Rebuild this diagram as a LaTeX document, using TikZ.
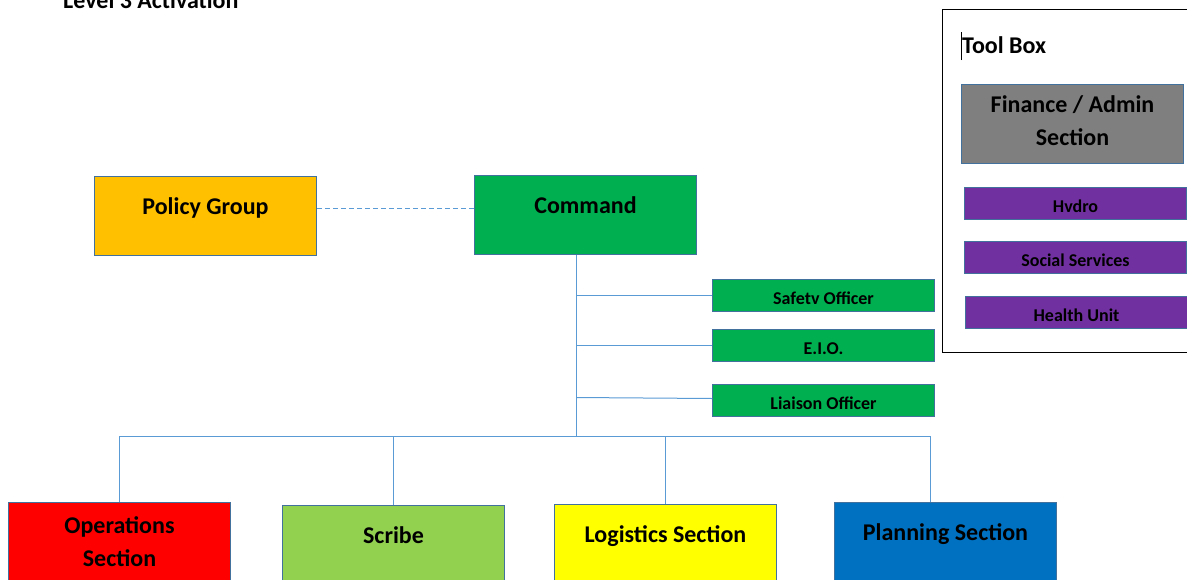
\documentclass[tikz,border=0pt]{standalone}
\usepackage{fontspec}
\setmainfont{Carlito}
\usepackage{xcolor}
\definecolor{frame_ms}{RGB}{65,113,156}
\definecolor{line_ms}{RGB}{91,155,213}
\definecolor{gold_ms}{RGB}{255,192,0}
\definecolor{green_ms}{RGB}{0,176,80}
\definecolor{lime_ms}{RGB}{146,208,80}
\definecolor{red_ms}{RGB}{255,0,0}
\definecolor{yellow_ms}{RGB}{255,255,0}
\definecolor{blue_ms}{RGB}{0,112,192}
\definecolor{grey_ms}{RGB}{127,127,127}
\definecolor{purple_ms}{RGB}{112,48,160}
\usetikzlibrary{calc,positioning}

\begin{document}
\begin{tikzpicture}
[	x=1pt, y=-1pt,
	unit/.style={draw=frame_ms, line width=1pt, anchor=north west, inner sep=0pt, minimum width=222pt, minimum height=79pt, align=center, font=\fontsize{24}{33}\selectfont\bfseries},
	oneline/.style={text height=12pt, text depth=16pt},
	officer/.style={draw=frame_ms, line width=1pt, fill=green_ms, anchor=north west, inner sep=0pt, minimum width=222pt, minimum height=32pt, text height=17pt, text depth=0pt, font=\fontsize{18}{22}\selectfont\bfseries},
	agency/.style={officer, fill=purple_ms},
	heading/.style={anchor=base west, inner sep=0pt, font=\fontsize{24}{28}\selectfont\bfseries},
	wire/.style={draw=line_ms, line width=1pt},
	link/.style={wire, dash pattern=on 5pt off 3pt}
]
\useasboundingbox (0,0) rectangle (1187,579);

\node(title)[heading] at (63,8) {Level 3 Activation};

% tool box
\draw[line width=0.8pt] (942,9) rectangle (1200,352);
\node(toolbox)[heading] at (962,53) {Tool Box};
\draw[line width=0.6pt] ($(toolbox.base west)+(-1,7)$) -- ++(0,-28);
\node(finance)[unit, fill=grey_ms] at (961,84) {Finance / Admin\\Section\vspace*{6pt}};
\node(hydro)[agency] at (964,187) {Hvdro};
\node(social)[agency] at (964,241) {Social Services};
\node(health)[agency] at (965,296) {Health Unit};

% command level
\node(policy)[unit, oneline, fill=gold_ms] at (94,176) {Policy Group};
\node(command)[unit, oneline, fill=green_ms] at (474,175) {Command};

\node(safety)[officer] at (712,279) {Safetv Officer};
\node(eio)[officer, below=17pt of safety.south west, anchor=north west] {E.I.O.};
\node(liaison)[officer, below=22pt of eio.south west, anchor=north west] {Liaison Officer};

% sections
\node(ops)[unit, fill=red_ms] at (8,502) {Operations\\Section};
\node(scribe)[unit, oneline, fill=lime_ms] at (282,505) {Scribe};
\node(logistics)[unit, oneline, fill=yellow_ms] at (554,504) {Logistics Section};
\node(planning)[unit, oneline, fill=blue_ms] at (834,502) {Planning Section};

\coordinate(trunk) at ($(command.south west)+(102,0)$);
\coordinate(bus) at ($(trunk)+(0,181)$);
\coordinate(plandrop) at ($(planning.north)+(-15,0)$);

% helpline policy--command
\draw[link]([yshift=8pt]policy.east)--([yshift=8pt]policy.east -| command.west);

% trunk and branches
\draw[wire](trunk)--(bus);
\draw[wire](trunk |- safety.west)--(safety.west);
\draw[wire](trunk |- eio.west)--(eio.west);
\draw[wire]([yshift=3pt]trunk |- liaison.west)--([yshift=2pt]liaison.west);
\draw[wire](ops.north)--(ops.north |- bus)--(plandrop |- bus)--(plandrop);
\draw[wire](scribe.north)--(scribe.north |- bus);
\draw[wire](logistics.north)--(logistics.north |- bus);

\end{tikzpicture}
\end{document}
